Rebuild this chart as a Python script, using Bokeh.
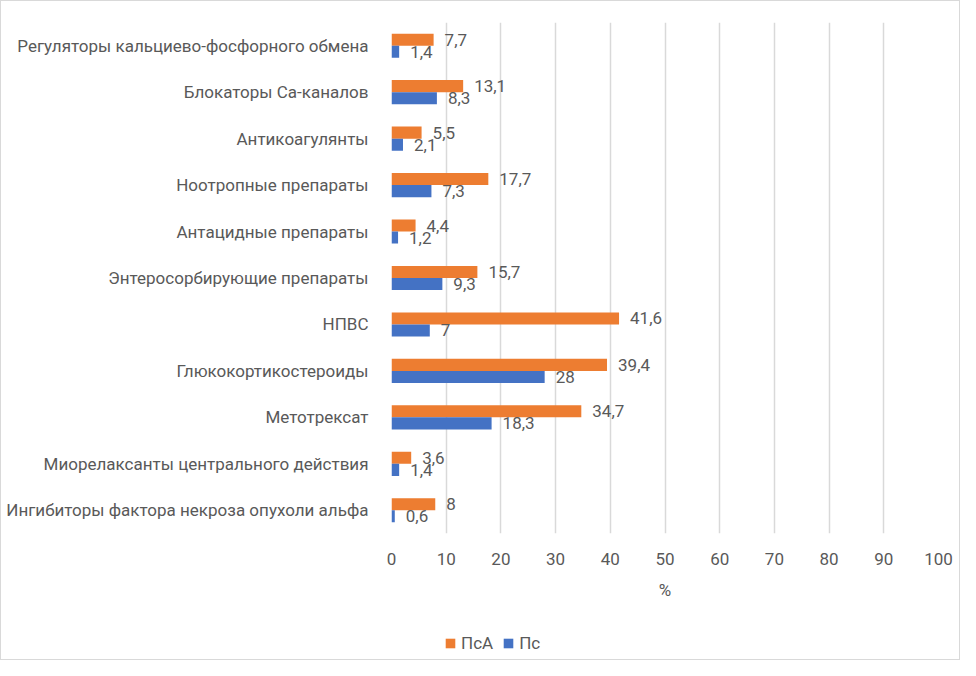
from bokeh.plotting import figure
from bokeh.layouts import column
from bokeh.models import ColumnDataSource, Legend, LegendItem, FactorRange, Range1d, FixedTicker
from bokeh.transform import dodge
from bokeh.core.properties import value
from bokeh.embed import file_html
from bokeh.resources import INLINE

categories = [
    "Регуляторы кальциево-фосфорного обмена",
    "Блокаторы Ca-каналов",
    "Антикоагулянты",
    "Ноотропные препараты",
    "Антацидные препараты",
    "Энтеросорбирующие препараты",
    "НПВС",
    "Глюкокортикостероиды",
    "Метотрексат",
    "Миорелаксанты центрального действия",
    "Ингибиторы фактора некроза опухоли альфа",
]
psa = [7.7, 13.1, 5.5, 17.7, 4.4, 15.7, 41.6, 39.4, 34.7, 3.6, 8]
ps = [1.4, 8.3, 2.1, 7.3, 1.2, 9.3, 7, 28, 18.3, 1.4, 0.6]
x_ticks = [0, 10, 20, 30, 40, 50, 60, 70, 80, 90, 100]
series_names = ["ПсА", "Пс"]

ORANGE = "#ED7D31"
BLUE = "#4472C4"
TEXT = "#595959"
FONT = "Roboto"
FS = "17px"


def fmt(v):
    return f"{v:g}".replace(".", ",")


source = ColumnDataSource(dict(
    cat=categories,
    psa=psa,
    ps=ps,
    psa_lbl=[fmt(v) for v in psa],
    ps_lbl=[fmt(v) for v in ps],
))

p = figure(
    width=958, height=610,
    y_range=FactorRange(factors=list(reversed(categories)), range_padding=0),
    x_range=Range1d(0, 100),
    output_backend="svg", toolbar_location=None,
    min_border_left=390, min_border_right=21, min_border_top=21, min_border_bottom=78,
)

r_psa = p.hbar(y=dodge("cat", 0.13, range=p.y_range), left=0, right="psa", height=0.26,
               source=source, fill_color=ORANGE, line_color=None)
r_ps = p.hbar(y=dodge("cat", -0.13, range=p.y_range), left=0, right="ps", height=0.26,
              source=source, fill_color=BLUE, line_color=None)

p.text(x="psa", y=dodge("cat", 0.13, range=p.y_range), text="psa_lbl", source=source,
       x_offset=11, text_align="left", text_baseline="middle",
       text_font=value(FONT), text_font_size=FS, text_color=TEXT)
p.text(x="ps", y=dodge("cat", -0.13, range=p.y_range), text="ps_lbl", source=source,
       x_offset=11, text_align="left", text_baseline="middle",
       text_font=value(FONT), text_font_size=FS, text_color=TEXT)

p.outline_line_color = None
p.ygrid.visible = False
p.xgrid.grid_line_color = "#D9D9D9"
p.xgrid.grid_line_width = 1.5

p.xaxis.ticker = FixedTicker(ticks=x_ticks)
p.xaxis.axis_label = "%"
for ax in (p.xaxis[0], p.yaxis[0]):
    ax.axis_line_color = None
    ax.major_tick_line_color = None
    ax.minor_tick_line_color = None
    ax.major_label_text_font = FONT
    ax.major_label_text_font_size = FS
    ax.major_label_text_color = TEXT
p.xaxis.major_label_standoff = 13
p.yaxis.major_label_standoff = 17
p.xaxis.axis_label_text_font = FONT
p.xaxis.axis_label_text_font_size = FS
p.xaxis.axis_label_text_font_style = "normal"
p.xaxis.axis_label_text_color = TEXT
p.xaxis.axis_label_standoff = 12

# legend strip below the chart (its frame is aligned with the main frame by the column)
lg = figure(
    width=958, height=48, x_range=Range1d(0, 1), y_range=Range1d(0, 1),
    x_axis_type=None, y_axis_type=None,
    output_backend="svg", toolbar_location=None,
    min_border=0, min_border_left=0, min_border_right=0, min_border_top=0, min_border_bottom=0,
)
lg.grid.visible = False
lg.outline_line_color = None
# zero-size proxies, only used for the legend swatches
g_psa = lg.hbar(y=0, left=0, right=0, height=0, source=source, fill_color=ORANGE, line_color=None)
g_ps = lg.hbar(y=0, left=0, right=0, height=0, source=source, fill_color=BLUE, line_color=None)

legend = Legend(
    items=[LegendItem(label=series_names[0], renderers=[g_psa]),
           LegendItem(label=series_names[1], renderers=[g_ps])],
    orientation="horizontal", location=(53, 6),
    glyph_width=12, glyph_height=12, label_height=18, label_standoff=5, spacing=9,
    padding=0, margin=0, background_fill_alpha=0, border_line_color=None,
    label_text_font=FONT, label_text_font_size=FS, label_text_color=TEXT,
)
lg.add_layout(legend)

layout = column(p, lg, spacing=0)
layout.styles = {"border": "1px solid #D9D9D9"}

open("out.html", "w").write(file_html(layout, INLINE))
